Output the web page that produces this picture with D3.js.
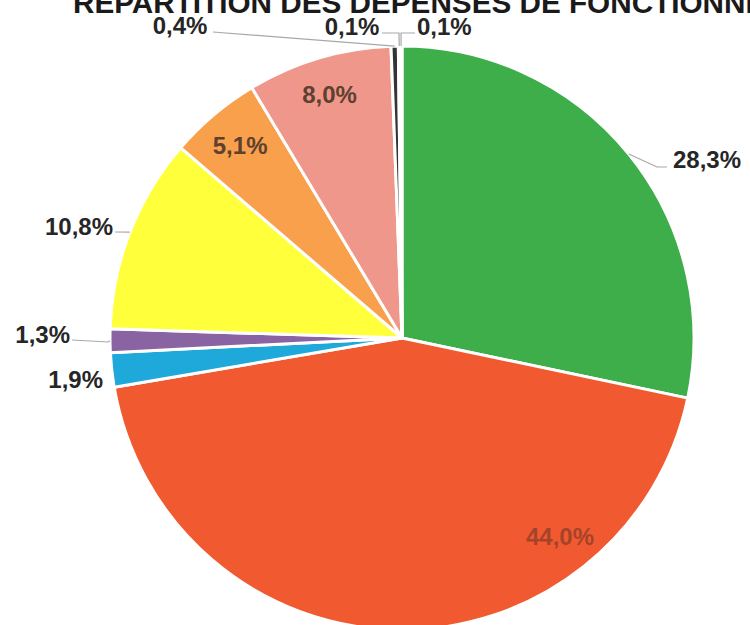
<!DOCTYPE html>
<html>
<head>
<meta charset="utf-8">
<script src="https://cdn.jsdelivr.net/npm/d3@7/dist/d3.min.js"></script>
<style>
body { margin:0; background:white; }
svg { display:block; }
text { font-family: "Liberation Sans", Arial, sans-serif; font-weight:bold; }
</style>
</head>
<body>
<svg id="chart" width="750" height="625"></svg>
<script>

// slices, clockwise from 12 o'clock
let postes = ["Poste 1", "Poste 2", "Poste 3", "Poste 4", "Poste 5", "Poste 6", "Poste 7", "Poste 8", "Poste 9", "Poste 10"]
let valeurs = [28.3, 44.0, 1.9, 1.3, 10.8, 5.1, 8.0, 0.4, 0.1, 0.1]
let couleurs = ["#3DAE4A", "#F15A31", "#1FA8DA", "#8A63A3", "#FFFF3B", "#F9A04C", "#EF978A", "#343434", "#8FA8A0", "#D0D0D0"]
let titre = "RÉPARTITION DES DÉPENSES DE FONCTIONNEMENT"


let cx = 402, cy = 338, r = 292

let svg = d3.select('#chart')

svg.append('text')
.attr('x', 73)
.attr('y', 13)
.attr('font-size', 29.7)
.attr('fill', '#1a1a1a')
.text(titre)

let data = postes.map((p, i) => ({poste: p, valeur: valeurs[i], couleur: couleurs[i]}))

let pie = d3.pie()
.sort(null)
.value(d => d.valeur)

let arc = d3.arc()
.innerRadius(0)
.outerRadius(r)

let arcs = pie(data)

let g = svg.append('g')
.attr('transform', `translate(${cx},${cy})`)

g.selectAll('path.slice')
.data(arcs)
.enter()
.append('path')
.attr('class', 'slice')
.attr('d', arc)
.attr('fill', d => d.data.couleur)
.attr('stroke', 'white')
.attr('stroke-width', 3)
.attr('stroke-linejoin', 'round')


// point on the rim at the middle of a slice
function rim(d, k) {
  let a = (d.startAngle + d.endAngle) / 2
  return [k * r * Math.sin(a), -k * r * Math.cos(a)]
}

// label layout (relative to pie centre); 'in' = inside the slice
let placement = [
  {type: 'out', x: 271, y: -170, anchor: 'start', leader: [[255, -171], [265, -171]]},
  {type: 'abs', x: 158, y: 207, anchor: 'middle', col: '#8C3A28'},
  {type: 'out', x: -299, y: 50, anchor: 'end', leader: []},
  {type: 'out', x: -332, y: 5, anchor: 'end', leader: [[-294, 4], [-330, 2]]},
  {type: 'out', x: -289, y: -103, anchor: 'end', leader: [[-287, -106]]},
  {type: 'in', k: 0.86, anchor: 'middle', col: '#5E4030'},
  {type: 'in', k: 0.87, anchor: 'middle', col: '#5E4030'},
  {type: 'out', x: -222, y: -304, anchor: 'middle', leader: [[-189, -306]]},
  {type: 'out', x: -50, y: -303, anchor: 'middle', leader: [[-3, -305], [-20, -305]]},
  {type: 'out', x: 15, y: -303, anchor: 'start', leader: [[-1, -305], [13, -305]]}
]

let fmt = v => d3.format('.1f')(v).replace('.', ',') + '%'

arcs.forEach((d, i) => {
  let p = placement[i]

  if (p.type == 'out') {
    if (p.leader.length) {
      let pts = [rim(d, 1)].concat(p.leader)
      g.append('path')
      .attr('d', d3.line()(pts))
      .attr('fill', 'none')
      .attr('stroke', '#A8A8A8')
      .attr('stroke-width', 1.2)
    }
    g.append('text')
    .attr('x', p.x)
    .attr('y', p.y)
    .attr('text-anchor', p.anchor)
    .attr('font-size', 24)
    .attr('fill', '#262626')
    .text(fmt(d.data.valeur))
  }
  else if (p.type == 'in') {
    let c = rim(d, p.k)
    g.append('text')
    .attr('x', c[0])
    .attr('y', c[1] + 8)
    .attr('text-anchor', 'middle')
    .attr('font-size', 24)
    .attr('fill', p.col)
    .text(fmt(d.data.valeur))
  }
  else {
    g.append('text')
    .attr('x', p.x)
    .attr('y', p.y)
    .attr('text-anchor', 'middle')
    .attr('font-size', 24)
    .attr('fill', p.col)
    .attr('fill-opacity', 0.75)
    .text(fmt(d.data.valeur))
  }
})

</script>
</body>
</html>
